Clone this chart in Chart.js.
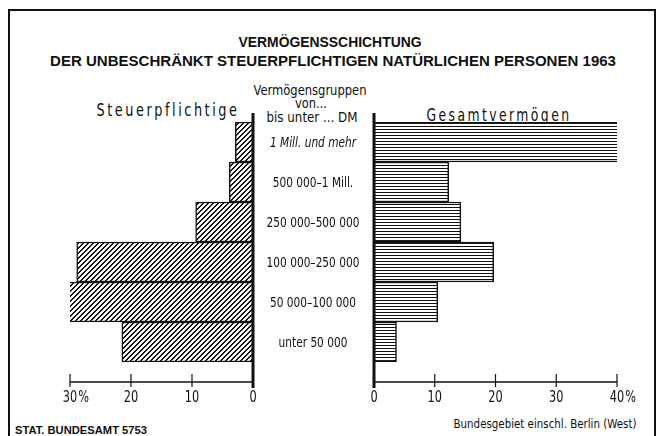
<!DOCTYPE html>
<html><head><meta charset="utf-8">
<script src="https://cdn.jsdelivr.net/npm/chart.js@4"></script>
<style>
html,body{margin:0;padding:0;background:#fff;}
#wrap{position:relative;width:659px;height:436px;overflow:hidden;background:#fff;}
canvas{position:absolute;left:0;top:0;}
.t{position:absolute;white-space:nowrap;color:#111;line-height:1;font-family:"Liberation Sans Narrow","DejaVu Sans Condensed",sans-serif;}
.b{font-family:"Liberation Sans","DejaVu Sans",sans-serif;font-weight:bold;}
</style></head><body>
<div id="wrap">
<div style="position:absolute;left:8px;top:9px;width:648px;height:440px;border:2px solid #111;box-sizing:border-box"></div>
<div class="t b" data-cx="330" data-cy="41" data-w="183" style="font-size:15px">VERMÖGENSSCHICHTUNG</div>
<div class="t b" data-cx="333" data-cy="60" data-w="566" style="font-size:15px">DER UNBESCHRÄNKT STEUERPFLICHTIGEN NATÜRLICHEN PERSONEN 1963</div>
<div class="t" data-cx="310" data-cy="90" data-w="113" style="font-size:14px">Vermögensgruppen</div>
<div class="t" data-cx="311" data-cy="103" data-w="32" style="font-size:14px">von...</div>
<div class="t" data-cx="312" data-cy="117" data-w="91" style="font-size:14px">bis unter ... DM</div>
<div class="t" data-cx="168" data-cy="110" data-w="143" style="font-size:17px;letter-spacing:3px">Steuerpflichtige</div>
<div class="t" data-cx="499" data-cy="115" data-w="145" style="font-size:17px;letter-spacing:3px">Gesamtvermögen</div>
<div class="t b" data-cx="81" data-cy="430" data-w="132" style="font-size:11px">STAT. BUNDESAMT 5753</div>
<div class="t" data-cx="545" data-cy="423" data-w="183" style="font-size:13px">Bundesgebiet einschl. Berlin (West)</div>
<canvas id="cL" width="659" height="436"></canvas>
<canvas id="cR" width="659" height="436"></canvas>
</div>
<script>
// ---- data ----
const categories = ['1 Mill. und mehr', '500 000–1 Mill.', '250 000–500 000', '100 000–250 000', '50 000–100 000', 'unter 50 000'];
const steuerpflichtige = [2.9, 3.9, 9.4, 28.9, 33.4, 21.5];
const gesamtvermoegen = [40.7, 12.3, 14.3, 19.7, 10.5, 3.7];
const leftTicks = [0, 10, 20, 30];
const leftTickLabels = ['0', '10', '20', '30'];
const rightTicks = [0, 10, 20, 30, 40];
const rightTickLabels = ['0', '10', '20', '30', '40'];

// ---- text fitting ----
document.querySelectorAll('.t').forEach(el => {
  const w = el.getBoundingClientRect().width;
  const s = (+el.dataset.w) / w;
  el.style.left = el.dataset.cx + 'px';
  el.style.top = el.dataset.cy + 'px';
  el.style.transform = 'translate(-50%,-50%) scaleX(' + s.toFixed(3) + ')';
});

const INK = '#111';
function diagPattern(ctx) {
  const c = document.createElement('canvas'); c.width = 5; c.height = 5;
  const g = c.getContext('2d');
  g.fillStyle = '#fff'; g.fillRect(0, 0, 5, 5);
  g.fillStyle = INK;
  for (let x = 0; x < 5; x++) for (let y = 0; y < 5; y++) if ((x + y) % 5 < 2) g.fillRect(x, y, 1, 1);
  return ctx.createPattern(c, 'repeat');
}
function horizPattern(ctx) {
  const c = document.createElement('canvas'); c.width = 4; c.height = 3;
  const g = c.getContext('2d');
  g.fillStyle = '#fff'; g.fillRect(0, 0, 4, 3);
  g.fillStyle = INK; g.fillRect(0, 0, 4, 1);
  return ctx.createPattern(c, 'repeat');
}

const NARROW = '"Liberation Sans Narrow","DejaVu Sans Condensed",sans-serif';
function narrowText(ctx, t, x, y, sx, align) {
  ctx.save();
  ctx.translate(x, y);
  ctx.scale(sx, 1);
  ctx.textAlign = align;
  ctx.fillText(t, 0, 0);
  ctx.restore();
}

const AXIS_GAP = 20; // axis line sits below the bar block
function axisPlugin(ticks, labels, pctIndex, drawCats) {
  return {
    id: 'axisDraw',
    afterDraw(chart) {
      const ctx = chart.ctx, xs = chart.scales.x, ys = chart.scales.y, a = chart.chartArea;
      const yAx = a.bottom + AXIS_GAP;
      ctx.save();
      ctx.strokeStyle = INK; ctx.fillStyle = INK;
      ctx.lineWidth = 1.5;
      ctx.beginPath();
      ctx.moveTo(xs.getPixelForValue(ticks[0]), yAx);
      ctx.lineTo(xs.getPixelForValue(ticks[ticks.length - 1]), yAx);
      ctx.stroke();
      ctx.lineWidth = 1.2;
      ticks.forEach(v => {
        const px = xs.getPixelForValue(v);
        ctx.beginPath(); ctx.moveTo(px, yAx - 8); ctx.lineTo(px, yAx + 5); ctx.stroke();
      });
      ctx.lineWidth = 3;
      const z = xs.getPixelForValue(0);
      ctx.beginPath(); ctx.moveTo(z, a.top - 9); ctx.lineTo(z, yAx + 6); ctx.stroke();
      const SX = 0.84;
      ctx.font = '15px ' + NARROW;
      ctx.textBaseline = 'middle';
      ticks.forEach((v, i) => {
        const px = xs.getPixelForValue(v);
        const t = labels[i];
        const w = ctx.measureText(t).width * SX;
        narrowText(ctx, t, px - w / 2, yAx + 16, SX, 'left');
        if (i === pctIndex) narrowText(ctx, '%', px + w / 2 + 1, yAx + 16, SX, 'left');
      });
      if (drawCats) {
        categories.forEach((c, i) => {
          ctx.font = (i === 0 ? 'italic ' : '') + '14px ' + NARROW;
          narrowText(ctx, c, 313, ys.getPixelForValue(i) + 1, SX, 'center');
        });
      }
      ctx.restore();
    }
  };
}

function makeChart(id, values, pattern, xmax, pad, reverse, ticks, labels, drawCats) {
  const el = document.getElementById(id);
  const ctx = el.getContext('2d');
  return new Chart(el, {
    type: 'bar',
    data: {
      labels: categories,
      datasets: [{
        data: values,
        backgroundColor: pattern(ctx),
        borderColor: INK,
        borderWidth: 1.5,
        borderSkipped: false,
        barPercentage: 1,
        categoryPercentage: 1
      }]
    },
    options: {
      indexAxis: 'y',
      responsive: false,
      animation: false,
      events: [],
      layout: { padding: pad },
      scales: {
        x: { type: 'linear', min: 0, max: xmax, reverse: reverse, display: false },
        y: { type: 'category', offset: true, display: false }
      },
      plugins: { legend: { display: false }, tooltip: { enabled: false } }
    },
    plugins: [axisPlugin(ticks, labels, ticks.length - 1, drawCats)]
  });
}

makeChart('cL', steuerpflichtige, diagPattern, 30, { left: 70, right: 659 - 253, top: 122, bottom: 436 - 362 }, true, leftTicks, leftTickLabels, true);
makeChart('cR', gesamtvermoegen, horizPattern, 40, { left: 374, right: 659 - 617, top: 122, bottom: 436 - 362 }, false, rightTicks, rightTickLabels, false);
</script>
</body></html>
